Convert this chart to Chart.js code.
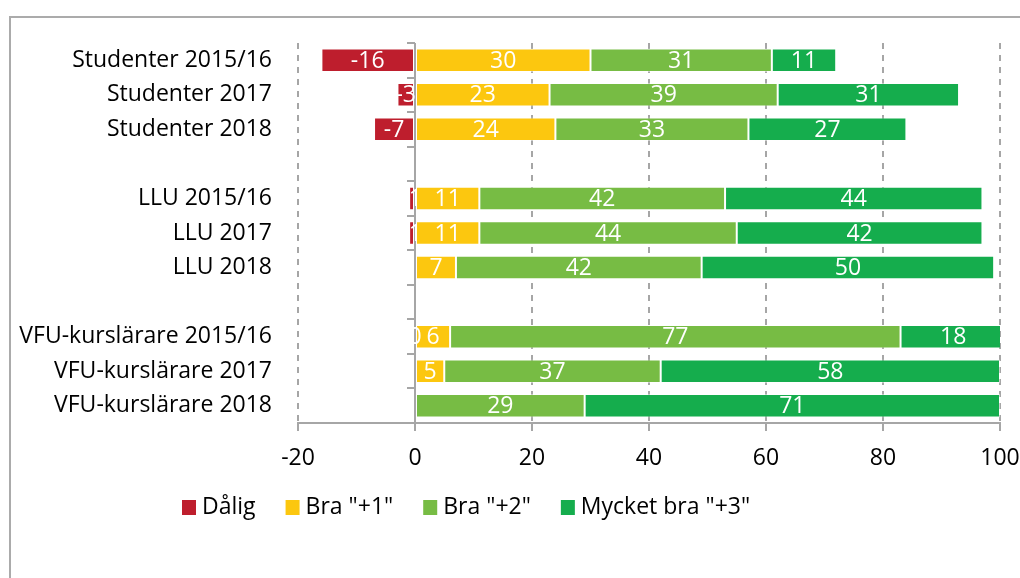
<!DOCTYPE html>
<html>
<head>
<meta charset="utf-8">
<script src="https://cdn.jsdelivr.net/npm/chart.js@4"></script>
<style>
  html, body { margin: 0; padding: 0; background: #fff; }
  #wrap { position: relative; width: 1020px; height: 578px; overflow: hidden; }
  #frame {
    position: absolute; left: 9px; top: 16px; width: 1100px; height: 700px;
    border-left: 2px solid #ababab; border-top: 2px solid #ababab;
  }
  canvas { position: absolute; left: 0; top: 0; }
</style>
</head>
<body>
<div id="wrap">
  <div id="frame"></div>
  <canvas id="chart" width="1020" height="578"></canvas>
</div>
<script>
// Rows, incl. two empty spacer rows between groups
const categories = [
  'Studenter 2015/16', 'Studenter 2017', 'Studenter 2018', '',
  'LLU 2015/16', 'LLU 2017', 'LLU 2018', '',
  'VFU-kurslärare 2015/16', 'VFU-kurslärare 2017', 'VFU-kurslärare 2018',
];
const seriesNames = ['Dålig', 'Bra "+1"', 'Bra "+2"', 'Mycket bra "+3"'];
const dalig   = [-16, -3, -7, null, -1, -1, null, null, 0, null, null];
const bra1    = [30, 23, 24, null, 11, 11, 7, null, 6, 5, null];
const bra2    = [31, 39, 33, null, 42, 44, 42, null, 77, 37, 29];
const mycket  = [11, 31, 27, null, 44, 42, 50, null, 18, 58, 71];
const xTicks  = [-20, 0, 20, 40, 60, 80, 100];

const COLORS = ['#be1e2d', '#fcc70f', '#77bc44', '#15ad4d'];
const FONT = '"Open Sans", "Noto Sans", sans-serif';
const FONT_SIZE = 23;
const AXIS_GREY = '#a6a6a6';

// Excel-style: solid vertical axis at 0 with ticks between rows,
// white value labels in each segment, and a hand-placed legend.
const excelBits = {
  id: 'excelBits',
  beforeDatasetsDraw(chart) {
    const { ctx, chartArea, scales: { x, y } } = chart;
    const x0 = x.getPixelForValue(0);
    ctx.save();
    ctx.strokeStyle = AXIS_GREY;
    ctx.lineWidth = 2;
    ctx.beginPath();
    ctx.moveTo(x0, chartArea.top);
    ctx.lineTo(x0, chartArea.bottom);
    for (let i = 0; i <= categories.length; i++) {
      const py = Math.round(y.getPixelForValue(i - 0.5));
      ctx.moveTo(x0 - 8, py);
      ctx.lineTo(x0, py);
    }
    ctx.stroke();
    ctx.restore();
  },
  afterDatasetsDraw(chart) {
    const { ctx } = chart;
    ctx.save();
    ctx.font = FONT_SIZE + 'px ' + FONT;
    ctx.fillStyle = '#fff';
    ctx.textAlign = 'center';
    ctx.textBaseline = 'middle';
    chart.data.datasets.forEach((ds, di) => {
      const meta = chart.getDatasetMeta(di);
      meta.data.forEach((bar, i) => {
        const v = ds.data[i];
        if (v === null || v === undefined) return;
        ctx.fillText(String(v), (bar.x + bar.base) / 2, bar.y + 1);
      });
    });
    ctx.restore();
  },
  afterDraw(chart) {
    const { ctx } = chart;
    ctx.save();
    ctx.font = FONT_SIZE + 'px ' + FONT;
    ctx.textBaseline = 'middle';
    ctx.textAlign = 'left';
    let lx = 182;
    const ly = 507;
    chart.data.datasets.forEach((ds) => {
      ctx.fillStyle = ds.backgroundColor;
      ctx.fillRect(lx, ly - 7, 14, 15);
      ctx.fillStyle = '#000';
      ctx.fillText(ds.label, lx + 20, ly);
      lx += 20 + ctx.measureText(ds.label).width + 30;
    });
    ctx.restore();
  },
};

const seriesData = [dalig, bra1, bra2, mycket];

new Chart(document.getElementById('chart'), {
  type: 'bar',
  data: {
    labels: categories,
    datasets: seriesNames.map((name, i) => ({
      label: name,
      data: seriesData[i],
      backgroundColor: COLORS[i],
      borderColor: 'rgba(255,255,255,0.45)',
      borderWidth: 1,
      borderSkipped: false,
      barPercentage: 0.68,
      categoryPercentage: 1,
    })),
  },
  options: {
    indexAxis: 'y',
    responsive: false,
    animation: false,
    layout: { padding: { left: 15, right: 20, top: 43, bottom: 105 } },
    plugins: {
      legend: { display: false },
      tooltip: { enabled: false },
    },
    scales: {
      x: {
        stacked: true,
        min: -20,
        max: 100,
        afterBuildTicks: (s) => { s.ticks = xTicks.map(v => ({ value: v })); },
        afterFit: (s) => { s.height = 50; s.paddingLeft = 0; s.paddingRight = 0; },
        grid: {
          color: (c) => (c.tick && c.tick.value === 0 ? 'rgba(0,0,0,0)' : AXIS_GREY),
          lineWidth: 2,
          tickColor: AXIS_GREY,
          tickWidth: 2,
          tickLength: 8,
        },
        border: { display: true, color: AXIS_GREY, width: 2, dash: [6, 6] },
        ticks: {
          color: '#000',
          font: { family: FONT, size: FONT_SIZE },
          padding: 14,
          maxRotation: 0,
        },
      },
      y: {
        stacked: true,
        afterFit: (s) => { s.width = 283; s.paddingTop = 0; s.paddingBottom = 0; },
        grid: { display: false, drawTicks: false },
        border: { display: false },
        ticks: {
          color: '#000',
          font: { family: FONT, size: FONT_SIZE },
          padding: 26,
          autoSkip: false,
        },
      },
    },
  },
  plugins: [excelBits],
});
</script>
</body>
</html>
